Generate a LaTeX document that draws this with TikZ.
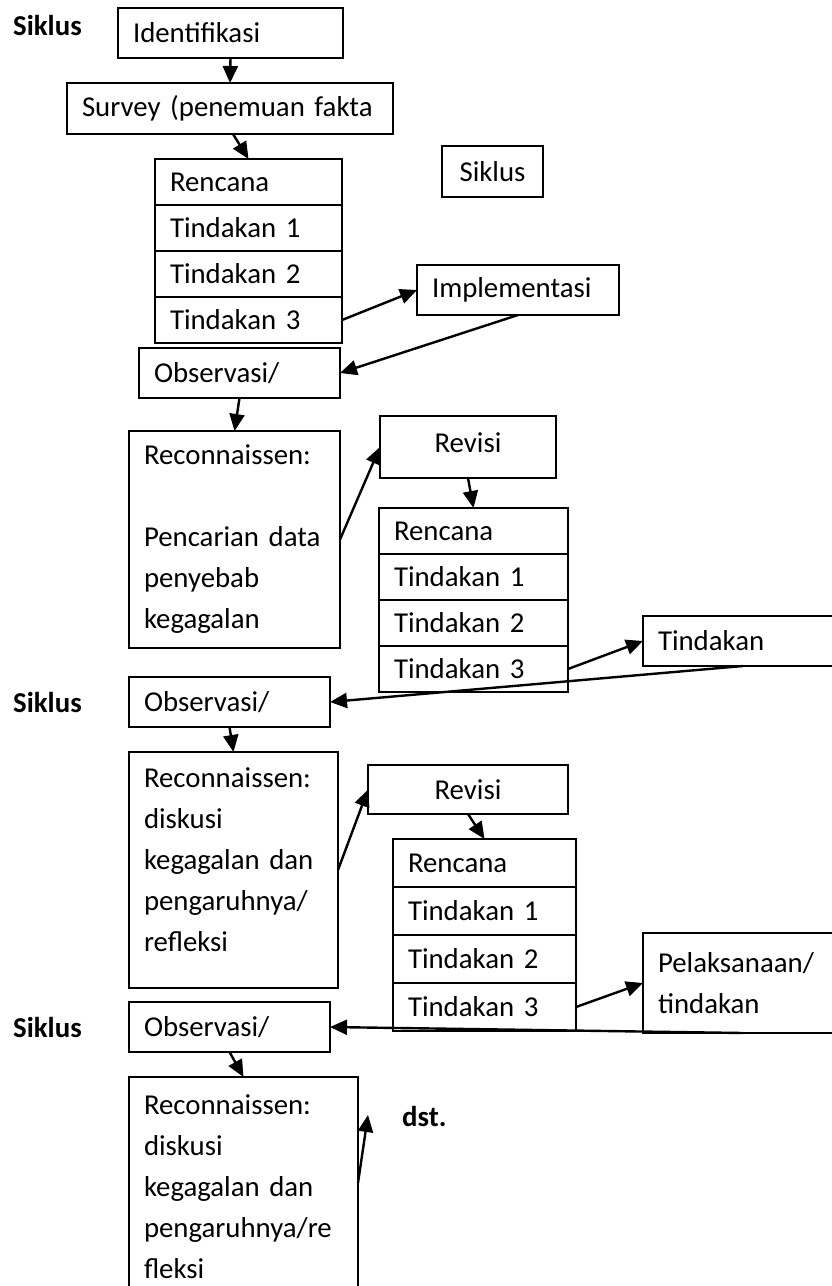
\documentclass[tikz,border=0pt]{standalone}
\usepackage{fontspec}
\setmainfont{Carlito}
\usetikzlibrary{arrows.meta}
\begin{document}
\begin{tikzpicture}[x=1pt,y=-1pt,
  >={Triangle[length=17pt,width=15pt]},
  box/.style={draw,line width=1.6pt,anchor=north west,outer sep=0pt,inner xsep=15pt,inner ysep=0pt,align=left,font=\fontsize{28.8}{41}\selectfont},
  cbox/.style={box,align=center},
  lbl/.style={anchor=base west,inner sep=0pt,font=\fontsize{28.8}{41}\selectfont\bfseries},
  arr/.style={->,line width=2.4pt}]
  \path[use as bounding box,fill=white] (0,0) rectangle (832,1286);
  \clip (0,0) rectangle (832,1286);
  \node[lbl] (sik1) at (13,35) {Siklus};
  \node[lbl] (sik2) at (13,712) {Siklus};
  \node[lbl] (sik3) at (13,1037) {Siklus};
  \node[lbl] (dst) at (402,1126) {dst.};
  \node[box,text width=195pt,minimum height=50pt] (ident) at (118,8) {Identifikasi};
  \node[box,text width=296pt,minimum height=51pt] (survey) at (67,83) {Survey (penemuan fakta};
  \node[box,text width=157pt,minimum height=46pt] (ren1) at (155,159) {Rencana};
  \node[box,text width=157pt,minimum height=46pt] (tin11) at (ren1.south west) {Tindakan 1};
  \node[box,text width=157pt,minimum height=46pt] (tin12) at (tin11.south west) {Tindakan 2};
  \node[box,text width=157pt,minimum height=46pt] (tin13) at (tin12.south west) {Tindakan 3};
  \node[cbox,text width=71pt,minimum height=51pt] (sikbox) at (442,146) {Siklus};
  \node[box,text width=172pt,minimum height=50pt] (impl) at (417,265) {Implementasi};
  \node[box,text width=171pt,minimum height=50pt] (obs1) at (139,348) {Observasi/};
  \node[box,text width=181pt,minimum height=217pt] (rec1) at (129,431) {Reconnaissen:\\[41pt]Pencarian data\\penyebab\\kegagalan};
  \node[cbox,text width=146pt,minimum height=62pt] (rev1) at (380,416) {Revisi\rule[-8pt]{0pt}{8pt}};
  \node[box,text width=159pt,minimum height=46pt] (ren2) at (379,508) {Rencana};
  \node[box,text width=159pt,minimum height=46pt] (tin21) at (ren2.south west) {Tindakan 1};
  \node[box,text width=159pt,minimum height=46pt] (tin22) at (tin21.south west) {Tindakan 2};
  \node[box,text width=159pt,minimum height=46pt] (tin23) at (tin22.south west) {Tindakan 3};
  \node[box,text width=190pt,minimum height=50pt] (tind) at (643,616) {Tindakan};
  \node[box,text width=171pt,minimum height=50pt] (obs2) at (129,677) {Observasi/};
  \node[box,text width=179pt,minimum height=236pt] (rec2) at (129,752) {Reconnaissen:\\diskusi\\kegagalan dan\\pengaruhnya/\\refleksi\rule[-20pt]{0pt}{20pt}};
  \node[cbox,text width=170pt,minimum height=49pt] (rev2) at (368,765) {Revisi};
  \node[box,text width=153pt,minimum height=48pt] (ren3) at (393,839) {Rencana};
  \node[box,text width=153pt,minimum height=48pt] (tin31) at (ren3.south west) {Tindakan 1};
  \node[box,text width=153pt,minimum height=48pt] (tin32) at (tin31.south west) {Tindakan 2};
  \node[box,text width=153pt,minimum height=48pt] (tin33) at (tin32.south west) {Tindakan 3};
  \node[box,text width=190pt,minimum height=100pt] (pel) at (643,933) {Pelaksanaan/\\tindakan};
  \node[box,text width=171pt,minimum height=50pt] (obs3) at (129,1002) {Observasi/};
  \node[box,text width=199pt,minimum height=220pt] (rec3) at (129,1077) {Reconnaissen:\\diskusi\\kegagalan dan\\pengaruhnya/re\\fleksi};
  \coordinate (dstin) at (368,1115);
  \draw[arr] (ident.south) to (survey.north);
  \draw[arr] ([xshift=3pt]survey.south) to (ren1.north);
  \draw[arr] (tin13.east) to (impl.west);
  \draw[arr] (impl.south) to (obs1.east);
  \draw[arr] (obs1.south) to (rec1.north);
  \draw[arr] (rec1.east) to (rev1.west);
  \draw[arr] (rev1.south) to (ren2.north);
  \draw[arr] (tin23.east) to (tind.west);
  \draw[arr] ([xshift=100pt]tind.south west) to (obs2.east);
  \draw[arr] (obs2.south) to (rec2.north);
  \draw[arr] (rec2.east) to (rev2.west);
  \draw[arr] (rev2.south) to (ren3.north);
  \draw[arr] (tin33.east) to (pel.west);
  \draw[arr] ([xshift=100pt]pel.south west) to (obs3.east);
  \draw[arr] (obs3.south) to (rec3.north);
  \draw[arr] ([yshift=-106pt]rec3.north east) to (dstin);
\end{tikzpicture}
\end{document}
